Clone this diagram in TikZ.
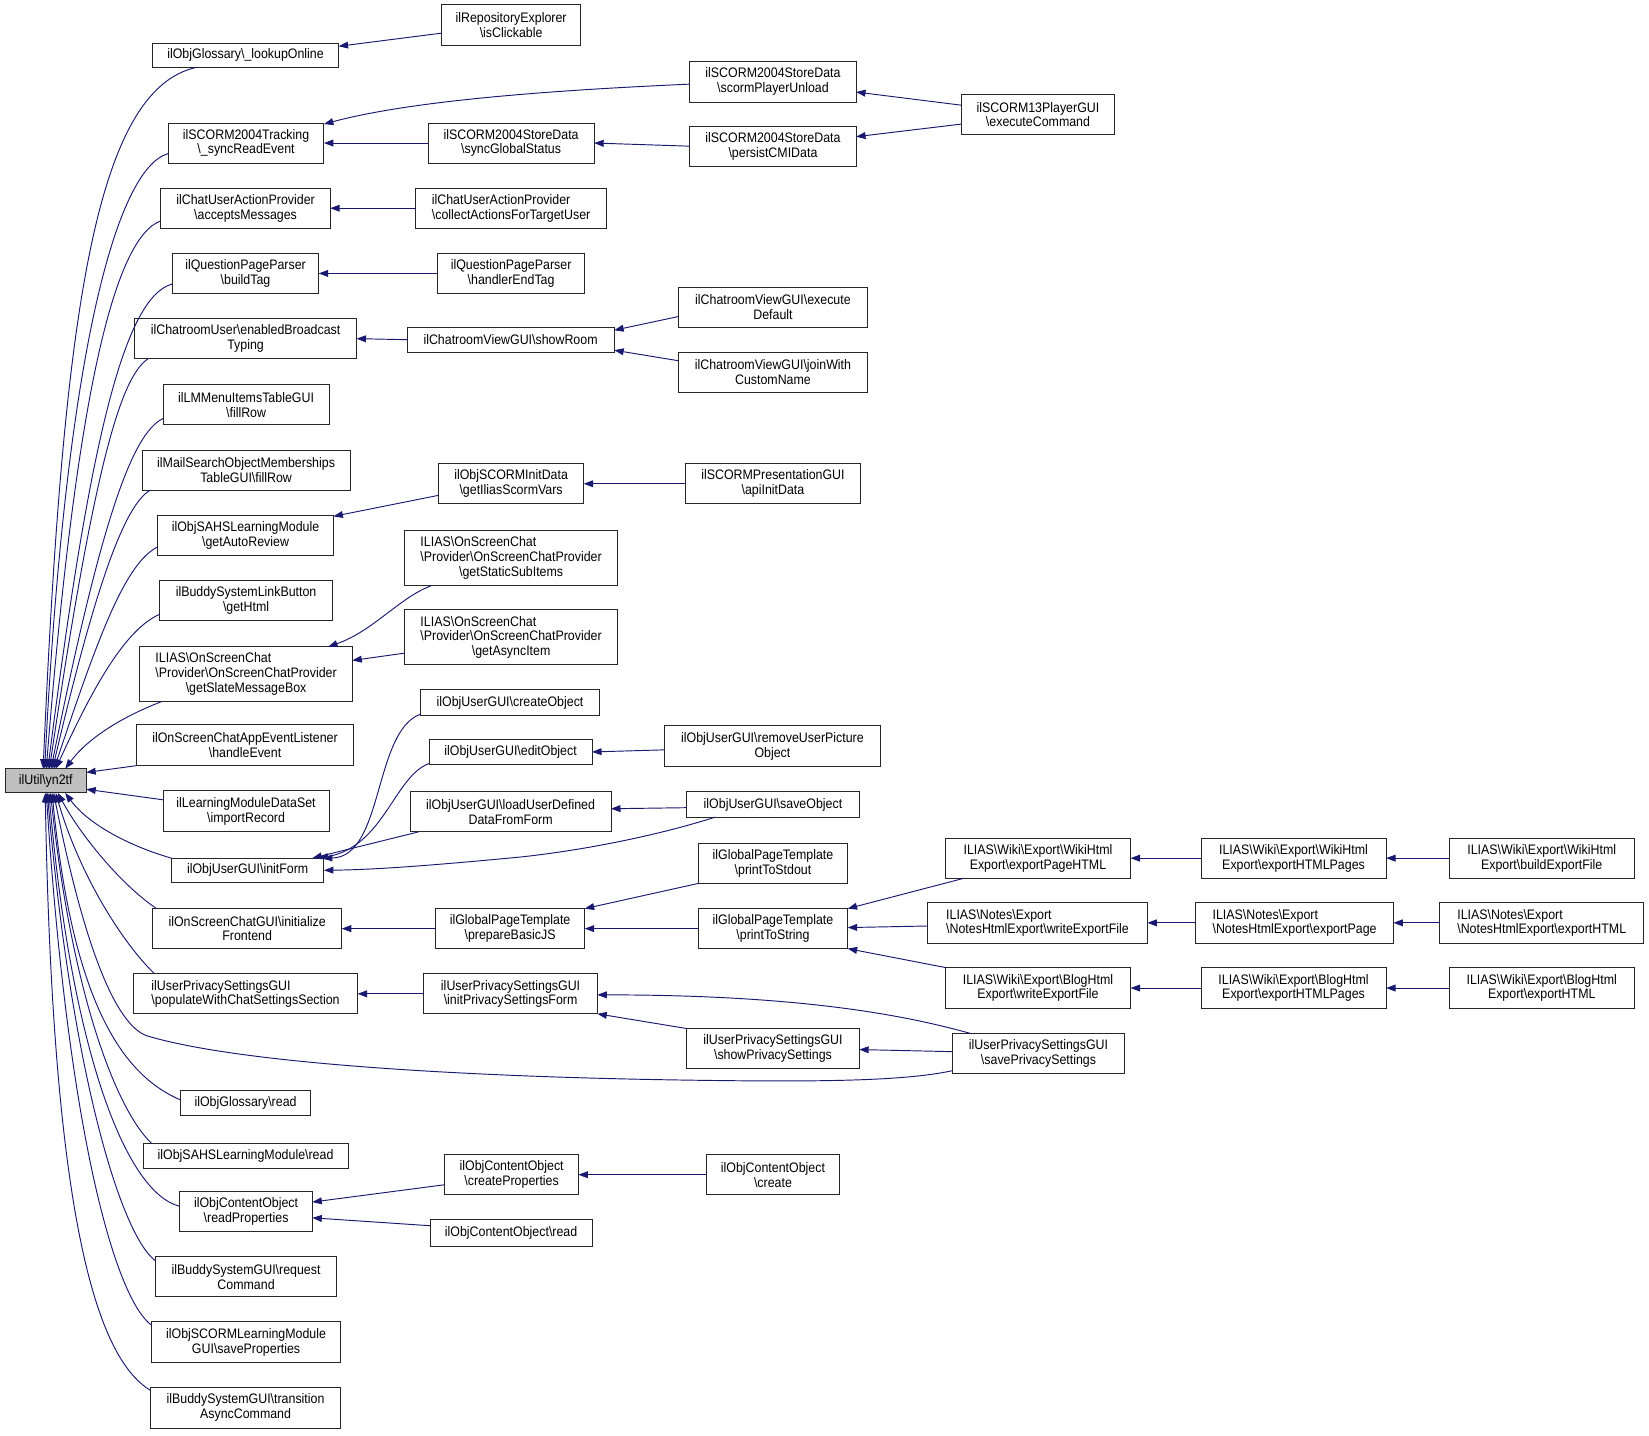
\documentclass[tikz,border=0pt]{standalone}
\usepackage{fontspec}
\setmainfont{Liberation Sans}[FakeStretch=0.9]
\usetikzlibrary{arrows.meta}
\definecolor{edgeblue}{HTML}{191970}
\definecolor{rootgray}{HTML}{BFBFBF}
\newcommand{\bsl}{\textbackslash}
\newcommand{\lfl}[2]{\rlap{#1}\phantom{#2}}
\newcommand{\bx}[7][]{\node[box,#1,minimum width={#5-#3},minimum height={#6-#4}] (#2) at ({(#3+#5)/2},{(#4+#6)/2}) {#7};}
\begin{document}
\begin{tikzpicture}[x=1pt,y=-1pt,
  box/.style={draw=black!85,line width=0.9pt,inner sep=0pt,outer sep=0pt,align=center,fill=white,
    font=\fontsize{13.1}{14}\selectfont},
  edge/.style={draw=edgeblue,line width=0.9pt,-{Triangle[length=9pt,width=6.5pt]}}]
\useasboundingbox (0,0) rectangle (1568,1365.4);
% root
\bx[fill=rootgray]{root}{5}{731}{82}{754}{ilUtil\bsl yn2tf}
% column 1
\bx{lookup}{145}{41}{322}{64}{ilObjGlossary\bsl\_lookupOnline}
\bx{syncRead}{160}{117}{308}{155}{ilSCORM2004Tracking\\\bsl\_syncReadEvent}
\bx{accepts}{153}{179}{314}{217}{ilChatUserActionProvider\\\bsl acceptsMessages}
\bx{buildTag}{164}{241}{303}{279}{ilQuestionPageParser\\\bsl buildTag}
\bx{enabledBroadcast}{128}{303}{339}{341}{ilChatroomUser\bsl enabledBroadcast\\Typing}
\bx{lmFillRow}{155}{366}{313}{404}{ilLMMenuItemsTableGUI\\\bsl fillRow}
\bx{mailFillRow}{135}{428}{333}{466}{ilMailSearchObjectMemberships\\TableGUI\bsl fillRow}
\bx{getAutoReview}{150}{490}{317}{528}{ilObjSAHSLearningModule\\\bsl getAutoReview}
\bx{getHtml}{152}{552}{316}{590}{ilBuddySystemLinkButton\\\bsl getHtml}
\bx{slate}{133}{615}{335}{667}{\lfl{ILIAS\bsl OnScreenChat}{\bsl Provider\bsl OnScreenChatProvider}\\\bsl Provider\bsl OnScreenChatProvider\\\bsl getSlateMessageBox}
\bx{handleEvent}{130}{689}{336}{728}{ilOnScreenChatAppEventListener\\\bsl handleEvent}
\bx{importRecord}{155}{752}{313}{791}{ilLearningModuleDataSet\\\bsl importRecord}
\bx{initForm}{163}{816}{308}{839}{ilObjUserGUI\bsl initForm}
\bx{initFrontend}{145}{864}{325}{902}{ilOnScreenChatGUI\bsl initialize\\Frontend}
\bx{populate}{127}{926}{340}{964}{\lfl{ilUserPrivacySettingsGUI}{\bsl populateWithChatSettingsSection}\\\bsl populateWithChatSettingsSection}
\bx{glossRead}{172}{1037}{295}{1061}{ilObjGlossary\bsl read}
\bx{sahsRead}{136}{1087}{331}{1111}{ilObjSAHSLearningModule\bsl read}
\bx{readProps}{171}{1133}{297}{1171}{ilObjContentObject\\\bsl readProperties}
\bx{request}{148}{1195}{320}{1233}{ilBuddySystemGUI\bsl request\\Command}
\bx{saveProps}{144}{1257}{324}{1296}{ilObjSCORMLearningModule\\GUI\bsl saveProperties}
\bx{transition}{143}{1319}{324}{1358}{ilBuddySystemGUI\bsl transition\\AsyncCommand}
% column 2
\bx{isClickable}{420}{4}{552}{43}{ilRepositoryExplorer\\\bsl isClickable}
\bx{syncGlobal}{407}{117}{565}{155}{ilSCORM2004StoreData\\\bsl syncGlobalStatus}
\bx{collectActions}{395}{179}{577}{217}{\lfl{ilChatUserActionProvider}{\bsl collectActionsForTargetUser}\\\bsl collectActionsForTargetUser}
\bx{handlerEndTag}{416}{241}{556}{279}{ilQuestionPageParser\\\bsl handlerEndTag}
\bx{showRoom}{387}{311}{584}{335}{ilChatroomViewGUI\bsl showRoom}
\bx{scormVars}{417}{441}{555}{479}{ilObjSCORMInitData\\\bsl getIliasScormVars}
\bx{staticSub}{385}{504}{587}{557}{\lfl{ILIAS\bsl OnScreenChat}{\bsl Provider\bsl OnScreenChatProvider}\\\bsl Provider\bsl OnScreenChatProvider\\\bsl getStaticSubItems}
\bx{asyncItem}{385}{580}{587}{632}{\lfl{ILIAS\bsl OnScreenChat}{\bsl Provider\bsl OnScreenChatProvider}\\\bsl Provider\bsl OnScreenChatProvider\\\bsl getAsyncItem}
\bx{createObject}{400}{656}{570}{680}{ilObjUserGUI\bsl createObject}
\bx{editObject}{408}{703}{563}{727}{ilObjUserGUI\bsl editObject}
\bx{loadUser}{390}{753}{581}{791}{ilObjUserGUI\bsl loadUserDefined\\DataFromForm}
\bx{prepareJS}{414}{864}{556}{902}{ilGlobalPageTemplate\\\bsl prepareBasicJS}
\bx{initPrivacy}{403}{926}{568}{964}{ilUserPrivacySettingsGUI\\\bsl initPrivacySettingsForm}
\bx{createProps}{423}{1098}{550}{1136}{ilObjContentObject\\\bsl createProperties}
\bx{coRead}{409}{1160}{563}{1185}{ilObjContentObject\bsl read}
% column 3
\bx{playerUnload}{656}{58}{814}{97}{ilSCORM2004StoreData\\\bsl scormPlayerUnload}
\bx{persistCMI}{656}{120}{814}{158}{ilSCORM2004StoreData\\\bsl persistCMIData}
\bx{execDefault}{645}{273}{825}{311}{ilChatroomViewGUI\bsl execute\\Default}
\bx{joinWith}{645}{335}{825}{373}{ilChatroomViewGUI\bsl joinWith\\CustomName}
\bx{apiInit}{652}{441}{818}{479}{ilSCORMPresentationGUI\\\bsl apiInitData}
\bx{removePic}{632}{690}{837}{729}{ilObjUserGUI\bsl removeUserPicture\\Object}
\bx{saveObject}{653}{753}{817}{777}{ilObjUserGUI\bsl saveObject}
\bx{printStdout}{664}{802}{806}{840}{ilGlobalPageTemplate\\\bsl printToStdout}
\bx{printString}{664}{864}{806}{902}{ilGlobalPageTemplate\\\bsl printToString}
\bx{showPrivacy}{653}{978}{817}{1016}{ilUserPrivacySettingsGUI\\\bsl showPrivacySettings}
\bx{coCreate}{672}{1098}{798}{1136}{ilObjContentObject\\\bsl create}
% column 4
\bx{execCommand}{914}{90}{1060}{128}{ilSCORM13PlayerGUI\\\bsl executeCommand}
\bx{wikiPageHTML}{899}{797}{1075}{835}{ILIAS\bsl Wiki\bsl Export\bsl WikiHtml\\Export\bsl exportPageHTML}
\bx{notesWrite}{882}{858}{1091}{897}{\lfl{ILIAS\bsl Notes\bsl Export}{\bsl NotesHtmlExport\bsl writeExportFile}\\\bsl NotesHtmlExport\bsl writeExportFile}
\bx{blogWrite}{899}{920}{1075}{959}{ILIAS\bsl Wiki\bsl Export\bsl BlogHtml\\Export\bsl writeExportFile}
\bx{savePrivacy}{906}{983}{1069}{1021}{ilUserPrivacySettingsGUI\\\bsl savePrivacySettings}
% column 5
\bx{wikiPages}{1142}{797}{1318}{835}{ILIAS\bsl Wiki\bsl Export\bsl WikiHtml\\Export\bsl exportHTMLPages}
\bx{notesPage}{1137}{858}{1325}{897}{\lfl{ILIAS\bsl Notes\bsl Export}{\bsl NotesHtmlExport\bsl exportPage}\\\bsl NotesHtmlExport\bsl exportPage}
\bx{blogPages}{1142}{920}{1318}{959}{ILIAS\bsl Wiki\bsl Export\bsl BlogHtml\\Export\bsl exportHTMLPages}
% column 6
\bx{wikiBuild}{1378}{797}{1554}{835}{ILIAS\bsl Wiki\bsl Export\bsl WikiHtml\\Export\bsl buildExportFile}
\bx{notesHTML}{1369}{858}{1563}{897}{\lfl{ILIAS\bsl Notes\bsl Export}{\bsl NotesHtmlExport\bsl exportHTML}\\\bsl NotesHtmlExport\bsl exportHTML}
\bx{blogHTML}{1378}{920}{1554}{959}{ILIAS\bsl Wiki\bsl Export\bsl BlogHtml\\Export\bsl exportHTML}

% ---- edges into root (upper) ----
\draw[edge] ([xshift=42pt]lookup.south west) .. controls (90,85) and (60,300) .. ([xshift=-2.5pt]root.north);
\draw[edge] ([yshift=-10pt]syncRead.west) .. controls (110,160) and (62,340) .. ([xshift=-1pt]root.north);
\draw[edge] ([yshift=-12pt]accepts.west) .. controls (108,226) and (72,380) .. ([xshift=0.5pt]root.north);
\draw[edge] ([yshift=-10pt]buildTag.west) .. controls (118,282) and (85,420) .. ([xshift=2pt]root.north);
\draw[edge] ([xshift=13pt]enabledBroadcast.south west) .. controls (115,358) and (90,440) .. ([xshift=3.5pt]root.north);
\draw[edge] ([yshift=-13pt]lmFillRow.west) .. controls (125,412) and (95,500) .. ([xshift=5pt]root.north);
\draw[edge] ([xshift=8pt]mailFillRow.south west) .. controls (118,480) and (90,560) .. ([xshift=6.5pt]root.north);
\draw[edge] ([yshift=-11pt]getAutoReview.west) .. controls (120,535) and (95,600) .. ([xshift=8pt]root.north);
\draw[edge] ([yshift=-13pt]getHtml.west) .. controls (120,598) and (90,650) .. ([xshift=9.5pt]root.north);
\draw[edge] ([xshift=21pt]slate.south west) .. controls (120,680) and (85,700) .. ([xshift=18.5pt]root.north);
\draw[edge] (handleEvent.south west) -- ([yshift=8pt]root.east);
\draw[edge] ([yshift=11pt]importRecord.west) -- ([yshift=-8pt]root.east);
% ---- edges into root (lower) ----
\draw[edge] (initForm.north west) .. controls (125,805) and (85,785) .. ([xshift=18.5pt]root.south);
\draw[edge] ([xshift=4pt]initFrontend.north west) .. controls (120,845) and (80,800) .. ([xshift=11.5pt]root.south);
\draw[edge] ([xshift=20pt]populate.north west) .. controls (115,895) and (75,830) .. ([xshift=9.5pt]root.south);
\draw[edge] ([yshift=-16pt]savePrivacy.west) .. controls (860,1028) and (780,1029) .. (650,1027)
   .. controls (450,1024) and (230,1012) .. (140,985)
   .. controls (110,975) and (80,900) .. ([xshift=7.5pt]root.south);
\draw[edge] ([yshift=3pt]glossRead.west) .. controls (110,1020) and (68,940) .. ([xshift=6pt]root.south);
\draw[edge] ([xshift=8pt]sahsRead.north west) .. controls (115,1060) and (70,960) .. ([xshift=4.5pt]root.south);
\draw[edge] ([yshift=5pt]readProps.west) .. controls (120,1135) and (68,1000) .. ([xshift=3pt]root.south);
\draw[edge] ([yshift=-4pt]request.north west) .. controls (115,1175) and (68,1020) .. ([xshift=1.5pt]root.south);
\draw[edge] ([yshift=-3pt]saveProps.north west) .. controls (110,1235) and (65,1080) .. ([xshift=0.5pt]root.south);
\draw[edge] ([yshift=-3pt]transition.north west) .. controls (90,1290) and (50,1150) .. ([xshift=-0.5pt]root.south);
% ---- other edges ----
\draw[edge] ([yshift=-8pt]isClickable.west) -- ([yshift=-3pt]lookup.north east);
\draw[edge] ([yshift=-2.5pt]playerUnload.west) .. controls (520,86) and (390,96) .. ([yshift=-1pt]syncRead.north east);
\draw[edge] (syncGlobal.west) -- (syncRead.east);
\draw[edge] (persistCMI.west) -- (syncGlobal.east);
\draw[edge] ([yshift=9pt]execCommand.west) -- ([yshift=-10pt]playerUnload.east);
\draw[edge] ([yshift=-9pt]execCommand.west) -- ([yshift=9pt]persistCMI.east);
\draw[edge] (collectActions.west) -- (accepts.east);
\draw[edge] (handlerEndTag.west) -- (buildTag.east);
\draw[edge] (showRoom.west) -- (enabledBroadcast.east);
\draw[edge] ([yshift=-9pt]execDefault.west) -- ([yshift=9pt]showRoom.east);
\draw[edge] ([yshift=11pt]joinWith.west) -- ([yshift=-10pt]showRoom.east);
\draw[edge] ([yshift=-11pt]scormVars.west) -- ([yshift=-1pt]getAutoReview.north east);
\draw[edge] (apiInit.west) -- (scormVars.east);
\draw[edge] ([xshift=25pt]staticSub.south west) .. controls (380,568) and (355,600) .. ([xshift=-23pt]slate.north east);
\draw[edge] ([yshift=-15pt]asyncItem.west) -- ([yshift=13pt]slate.east);
\draw[edge] ([yshift=1pt]createObject.south west) .. controls (355,695) and (365,815) .. ([xshift=-1pt]initForm.north east);
\draw[edge] ([yshift=1pt]editObject.south west) .. controls (375,738) and (365,805) .. ([xshift=-5pt]initForm.north east);
\draw[edge] ([xshift=8pt]loadUser.south west) -- ([xshift=-11pt]initForm.north east);
\draw[edge] ([xshift=27pt]saveObject.south west) .. controls (630,793) and (560,808) .. (494,815)
   .. controls (420,822) and (360,827) .. (initForm.east);
\draw[edge] ([yshift=-3pt]saveObject.west) -- ([yshift=3pt]loadUser.east);
\draw[edge] ([yshift=-3.5pt]removePic.west) -- (editObject.east);
\draw[edge] (prepareJS.west) -- (initFrontend.east);
\draw[edge] (printStdout.south west) -- (prepareJS.north east);
\draw[edge] (printString.west) -- (prepareJS.east);
\draw[edge] ([xshift=18pt]wikiPageHTML.south west) -- (printString.north east);
\draw[edge] ([yshift=-3pt]notesWrite.west) -- ([yshift=1pt]printString.east);
\draw[edge] (blogWrite.north west) -- (printString.south east);
\draw[edge] (wikiPages.west) -- (wikiPageHTML.east);
\draw[edge] (wikiBuild.west) -- (wikiPages.east);
\draw[edge] (notesPage.west) -- (notesWrite.east);
\draw[edge] (notesHTML.west) -- (notesPage.east);
\draw[edge] (blogPages.west) -- (blogWrite.east);
\draw[edge] (blogHTML.west) -- (blogPages.east);
\draw[edge] (initPrivacy.west) -- (populate.east);
\draw[edge] ([xshift=18pt]savePrivacy.north west) .. controls (860,965) and (760,946) .. ([yshift=-1pt]initPrivacy.east);
\draw[edge] (showPrivacy.north west) -- (initPrivacy.south east);
\draw[edge] ([yshift=2pt]savePrivacy.west) -- ([yshift=-1pt]showPrivacy.east);
\draw[edge] ([yshift=-9.5pt]createProps.west) -- ([yshift=9pt]readProps.east);
\draw[edge] ([yshift=7pt]coRead.west) -- ([yshift=-6pt]readProps.east);
\draw[edge] (coCreate.west) -- (createProps.east);
\end{tikzpicture}
\end{document}
